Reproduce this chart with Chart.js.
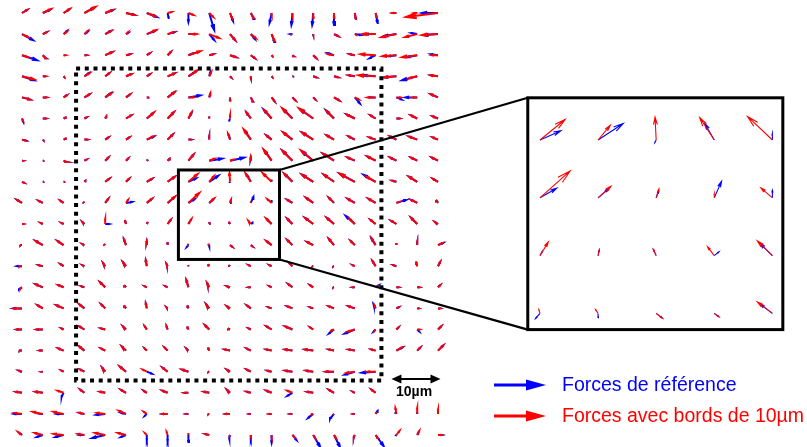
<!DOCTYPE html>
<html>
<head>
<meta charset="utf-8">
<script src="https://cdn.jsdelivr.net/npm/chart.js@4.4.1/dist/chart.umd.min.js"></script>
<style>
  html, body { margin: 0; padding: 0; background: #fff; }
  #wrap { position: relative; width: 807px; height: 447px; overflow: hidden; }
  #plot { position: absolute; left: 0; top: 0; }
  .key { position: absolute; font-family: "Liberation Sans", Arial, sans-serif; font-size: 19.5px; line-height: 24px; white-space: nowrap; }
  .mark { position: absolute; }
  #scaleLabel { position: absolute; left: 396px; top: 382px; font-family: "Liberation Sans", Arial, sans-serif; font-weight: bold; font-size: 14px; line-height: 18px; }
</style>
</head>
<body>
<div id="wrap">
  <canvas id="plot" width="807" height="447"></canvas>
  <svg class="mark" style="left:494px;top:378px" width="54" height="14">
    <line x1="0" y1="7" x2="36" y2="7" stroke="#0000ff" stroke-width="3"/>
    <polygon points="32,1.5 52,7 32,12.5" fill="#0000ff"/>
  </svg>
  <div class="key" style="left:562px;top:372px;color:#0000ff">Forces de référence</div>
  <svg class="mark" style="left:494px;top:409px" width="54" height="14">
    <line x1="0" y1="7" x2="36" y2="7" stroke="#ff0000" stroke-width="3"/>
    <polygon points="32,1.5 52,7 32,12.5" fill="#ff0000"/>
  </svg>
  <div class="key" style="left:562px;top:403px;color:#ff0000">Forces avec bords de 10µm</div>
  <div id="scaleLabel">10µm</div>
</div>
<script>
// ===== Grid =====
const gridCols = [0,1,2,3,4,5,6,7,8,9,10,11,12,13,14,15,16,17,18,19,20];
const gridRows = [0,1,2,3,4,5,6,7,8,9,10,11,12,13,14,15,16,17,18,19,20];
const zoomCols = [8,9,10,11,12];
const zoomRows = [8,9,10,11];

// ===== Forces de référence (blue), x and y components, y pointing down =====
const refU = [
  [5,7,5,9,8,9,10,1,0,5,3,3,-2,-1,-1,0,1,2,-3,-2,-16],
  [11,4,3,3,5,2,8,7,6,5,5,4,3,-2,0,4,6,-10,-12,-6,-14],
  [15,3,1,2,7,4,3,3,5,4,6,4,1,1,3,-6,-5,-6,-8,-10,-7],
  [12,2,1,4,4,5,3,7,6,1,1,0,1,1,3,4,-6,-12,-12,-15,-7],
  [8,3,3,5,5,4,2,6,12,1,0,2,3,3,2,5,5,-6,5,-12,-7],
  [1,3,2,2,1,5,6,6,3,0,-1,-4,-8,-9,-13,-8,-8,-5,3,-6,-5],
  [4,1,2,3,3,3,7,5,3,0,-1,-6,-5,-9,-11,-7,-6,-6,-6,-8,-5],
  [1,1,2,2,3,2,1,2,5,13,14,0,-7,-10,-11,-11,-7,-8,-6,-6,-6],
  [2,1,1,1,4,3,5,7,7.5,9,-0.5,-3.4,0,-8,-11,-10,-15,-12,-4,-8,-5],
  [-5,-4,-3,-1,3,6,5,7,6,4,0.8,2.6,0,-5,-7,-5,-7,-7,10,-6,-2],
  [1,-2,-2,-2,4,-1,1,3,0.8,0.4,-1,1.7,-4.5,-5,-8,-7,-9,-5,-5,-6,-3],
  [-2,-7,-6,-2,-1,-2,0,0,-1.6,0,2.2,1.6,-4.5,-5,-6,-5,-4,-4,0,0,5],
  [-5,-4,-3,-2,-2,-3,-1,-1,0,-1,-1,-2,-2,-3,-1,-1,-2,-3,-3,-1,2],
  [-3,-7,-5,-3,-5,-2,-2,-2,-2,-2,-3,-2,-2,-4,-3,-1,-2,3,2,2,2],
  [-9,-5,-7,-5,-4,-2,-1,-1,-1,-3,-3,-4,-3,-5,-3,-5,-6,-2,2,1,2],
  [-5,-6,-2,-5,-4,-3,-2,-1,-1,-4,-2,-2,-5,-7,-3,-5,-10,-2,2,2,3],
  [-3,-3,-5,-5,-4,-4,-2,-3,-2,-1,-5,-4,-5,-7,-8,-5,-6,-4,6,3,5],
  [-3,-1,-2,-4,-3,-6,5,-5,-6,-1,-3,-4,-4,-7,-7,-8,-10,-14,null,null,null],
  [-6,-7,-2,-4,-5,-5,-3,-5,-4,-5,-3,-4,-5,-5,-6,-5,-2,-4,null,null,null],
  [-8,-3,-7,-5,-9,-5,-2,-5,-2,-1,-4,-1,-2,-2,-5,-4,-1,2,-1,0,0],
  [-2,-6,-8,-5,-13,-5,0,0,0,-4,-1,0,0,4,7,6,-1,8,-1,1,4]
];
const refV = [
  [-3,-3,-3,-5,-3,2,4,5,9,17,8,6,10,12,12,12,6,10,0,0,0],
  [6,-2,-3,-2,-3,-1,-3,-2,0,6,6,5,8,0,1,2,1,0,2,-1,1],
  [5,3,0,0,-3,-1,-2,-3,-2,-1,2,3,1,1,3,-2,-1,3,1,2,-1],
  [4,0,1,-3,-3,-2,-2,-3,-4,-4,1,2,1,0,1,1,-1,-1,1,4,-1],
  [2,0,-2,-3,-4,-3,0,-5,-2,-3,3,4,4,3,2,3,6,0,2,0,-3],
  [3,0,-1,-1,-2,-3,-5,-6,-5,-2,3,-5,-9,-9,-9,-8,-4,-3,0,-3,-2],
  [1,1,-1,0,-2,-2,-3,-5,0,-3,-5,-9,-4,-7,-7,-4,-3,-2,-3,-3,-2],
  [0,0,1,-1,-3,-2,-1,-2,-6,-2,-3,-3,-10,-10,-9,-7,-3,-4,-3,-3,-3],
  [1,0,0,-1,-3,-3,-3,-5,-3.4,-6,1,-6,-2.4,-8,-7,-7,-8,-7,-1,-5,-3],
  [-3,-2,-2,-1,-4,-1,-4,-6,-3.5,-3.5,-2.5,-6,-2.8,-3,-5,-5,-4,-4,-3,-3,-3],
  [0,-1,-1,-2,0,-4,-2,-4,-1.5,-2,-2.2,-1.4,-4.5,-5,-6,-6,-8,-4,-3,-6,-2],
  [0,-4,-4,-1,-1,-5,-4,-3,1.9,1.6,1.7,1.2,-3.5,-5,-3,-6,-4,-6,-2,-3,-2],
  [0,-1,-2,-1,-3,-4,-6,-2,-1,-2,-1,-1,-1,-3,0,0,-1,-5,-1,-4,-4],
  [2,-3,-2,-1,-5,-2,-1,-1,-7,-4,-1,0,-1,-3,-2,0,0,-2,0,0,-2],
  [0,-3,-3,-4,-4,-3,-5,-1,-3,-4,-2,-3,-1,-2,-1,-2,-2,-4,-1,0,0],
  [0,0,-1,-3,-1,-3,-3,-3,-3,-4,-1,-1,-3,-3,-2,4,4,2,-2,2,-3],
  [0,0,-2,-4,-2,-4,-2,-3,-2,-3,-1,-2,-1,-1,-1,-1,-1,-1,-3,-3,-5],
  [-1,0,-1,-2,-4,-5,2,-4,-2,0,-2,-2,-1,-1,-1,0,3,1,null,null,null],
  [-1,-1,4,-3,-1,-3,-2,-2,0,-1,-3,-1,-2,3,-1,-3,-1,-3,null,null,null],
  [0,0,0,-1,1,-1,2,0,0,0,0,0,0,0,4,5,0,-3,-2,-2,-2],
  [-2,2,2,0,3,2,5,6,7,-1,4,4,8,5,12,12,2,11,1,-2,0]
];

// ===== Forces avec bords de 10µm (red) =====
const edgeU = [
  [5,8,6,11,7,8,8,4,5,4,2,3,0,0,0,0,1,1,-4,-3,-32],
  [6,4,3,3,6,2,9,6,8,10,5,5,3,-1,0,4,2,-13,-15,-12,-16],
  [6,3,2,2,7,4,3,3,12,4,6,4,1,1,3,-6,-5,-15,-14,-15,-6],
  [12,3,1,5,4,5,3,7,9,2,1,0,1,1,3,4,-6,-17,-12,-8,-7],
  [8,4,3,5,6,4,2,7,5,1,0,2,3,3,2,5,4,-8,4,-4,-7],
  [1,3,2,2,1,5,7,6,3,0,0,-4,-7,-10,-14,-7,-8,-5,3,-6,-5],
  [3,1,2,3,3,3,6,5,2,0,-2,-7,-5,-9,-11,-7,-6,-6,-6,-8,-5],
  [1,1,2,2,3,2,1,2,5,5,3,0,-8,-10,-12,-11,-7,-8,-6,-6,-6],
  [2,1,1,1,4,3,5,7,9,4.4,-0.4,-5.2,-8.9,-8,-11,-10,-15,-9,-4,-8,-5],
  [-5,-4,-3,-1,3,2,5,7,10.8,4.6,1,0,-4.1,-5,-7,-5,-7,-7,3,-6,-2],
  [1,-2,-2,-2,0,-1,1,3,3,0.4,-1,-2.4,-5.4,-5,-8,-7,-5,-5,-5,-6,-3],
  [-2,-7,-6,-2,-1,-2,0,0,-0.4,-0.9,2.2,1.6,-5.4,-5,-6,-5,-4,-4,0,0,4],
  [-3,-4,-3,-2,-2,-3,-1,-1,0,-1,-1,-2,-2,-3,-1,-1,-2,-3,-3,-1,2],
  [-2,-7,-5,-3,-5,-2,-2,-2,-2,-2,-3,-2,-2,-4,-3,-1,-2,2,2,2,2],
  [-8,-5,-7,-5,-4,-2,-1,-1,-1,-3,-3,-4,-3,-5,-3,-5,-6,-1,2,1,2],
  [-5,-6,-2,-5,-4,-3,-2,-1,-1,-4,-2,-2,-5,-7,-3,-3,-7,-1,2,2,3],
  [-3,-3,-5,-5,-4,-4,-2,-3,-2,-1,-5,-4,-5,-7,-8,-5,-6,-4,5,3,5],
  [-3,-1,-2,-4,-3,-6,-4,-5,-6,-1,-3,-4,-4,-7,-7,-8,-8,-8,null,null,null],
  [-6,-7,-6,-4,-5,-5,-3,-5,-4,-5,-3,-4,-5,-5,-6,-5,-2,-4,null,null,null],
  [-7,-10,-10,-5,-8,-7,-3,-5,-2,-1,-4,-1,-2,-2,-2,-1,-1,1,-1,0,0],
  [-4,-8,-10,-6,-10,-8,-2,-1,0,-4,-1,0,0,2,2,2,-1,2,3,2,3]
];
const edgeV = [
  [-3,-4,-4,-6,-3,2,3,-1,2,4,5,5,3,4,5,5,6,4,0,0,4],
  [3,-2,-2,-3,-3,-2,-4,-2,0,4,6,4,7,0,1,2,1,0,3,3,1],
  [2,3,0,0,-3,-1,-2,-3,-4,-1,2,3,1,1,3,-1,-1,-1,1,2,0],
  [3,0,1,-3,-3,-2,-2,-3,-6,-4,1,2,1,0,1,1,-1,-1,1,2,-1],
  [2,0,-2,-3,-4,-3,0,-5,0,-4,3,4,4,3,2,3,2,0,0,0,-3],
  [2,0,-1,-1,-2,-3,-6,-6,-6,-2,-3,-6,-8,-10,-10,-7,-4,-3,0,-3,-2],
  [1,1,-1,0,-2,-2,-3,-5,0,-3,-6,-10,-4,-7,-7,-4,-3,-2,-3,-3,-2],
  [0,0,1,-1,-3,-2,-1,-2,-6,-2,-1,-4,-11,-10,-10,-7,-3,-4,-3,-3,-3],
  [1,0,0,-1,-3,-3,-3,-5,-7.5,-5.4,-8.4,-8.2,-8.6,-8,-7,-7,-8,-5,-1,-5,-3],
  [-3,-2,-2,-1,-4,-3,-4,-6,-9.8,-4.2,-3.2,-1.5,-3.6,-3,-5,-5,-4,-4,-1,-3,-3],
  [0,-1,-1,-2,-5,-4,-2,-4,-5,-2,-2.2,-3.2,-5.4,-5,-6,-6,-5,-4,-3,-6,-2],
  [0,-4,-4,-1,-1,-6,-4,-3,-1.4,-1.4,1.7,1.2,-4.2,-5,-3,-6,-4,-7,-2,-3,-2],
  [0,-1,-2,-1,-3,-4,-6,-2,-1,-2,-1,-1,-1,-3,0,0,-1,-5,-1,-5,-4],
  [1,-3,-2,-1,-5,-2,-1,-1,-7,-4,-1,0,-1,-3,-2,0,0,-1,0,0,-2],
  [0,-3,-3,-4,-4,-3,-5,-1,-3,-4,-2,-3,-1,-2,-1,-2,-2,-3,-1,0,0],
  [0,0,-1,-3,-1,-3,-3,-3,-3,-4,-1,-1,-3,-3,-2,1,2,1,-2,0,-3],
  [0,0,-2,-4,-2,-4,-2,-3,-2,-3,-1,-2,-1,-1,-1,-1,-1,-1,-3,-3,-5],
  [-1,0,-1,-2,-4,-5,-2,-4,-2,0,-2,-2,-1,-1,-1,0,1,0,null,null,null],
  [-1,-1,-2,-3,-1,-3,-2,-2,0,-1,-3,-1,-2,-2,-1,-3,-1,-3,null,null,null],
  [-1,-2,-2,-1,-1,-3,-2,0,0,0,0,0,0,0,0,1,0,-2,-6,-6,-4],
  [-3,-2,-1,-1,-2,-2,-2,-3,-2,-1,2,2,3,2,3,3,2,3,-4,-4,0]
];

// ===== Quiver helpers =====
const FORCE_PER_COL = 20.8;   // force units drawn as one grid step across
const FORCE_PER_ROW = 21.1;   // force units drawn as one grid step down
const HEAD = 0.33, SPREAD = 0.25;

// one polyline per arrow: shaft, gap, head (two barbs), gap
function quiver(U, V, colIdx, rowIdx) {
  const pts = [];
  rowIdx.forEach(r => {
    colIdx.forEach(c => {
      const u = U[r][c], v = V[r][c];
      if (u == null || (u === 0 && v === 0)) return;
      const du = u / FORCE_PER_COL, dv = v / FORCE_PER_ROW;
      const tx = c + du, ty = r + dv;
      pts.push(
        {x: c, y: r}, {x: tx, y: ty}, {x: tx, y: null},
        {x: tx - HEAD * (du + SPREAD * dv), y: ty - HEAD * (dv - SPREAD * du)},
        {x: tx, y: ty},
        {x: tx - HEAD * (du - SPREAD * dv), y: ty - HEAD * (dv + SPREAD * du)},
        {x: tx, y: null}
      );
    });
  });
  return pts;
}

function arrowSet(label, U, V, colIdx, rowIdx, color, width, xId, yId) {
  return {
    label: label,
    data: quiver(U, V, colIdx, rowIdx),
    showLine: true,
    spanGaps: false,
    borderColor: color,
    borderWidth: width,
    borderJoinStyle: 'miter',
    pointRadius: 0,
    xAxisID: xId,
    yAxisID: yId
  };
}

// ===== Frames, zoom lines and scale bar =====
const frames = {
  id: 'frames',
  afterDatasetsDraw(chart) {
    const {ctx} = chart;
    const {x, y, x2, y2} = chart.scales;
    ctx.save();
    ctx.strokeStyle = '#000';
    ctx.fillStyle = '#000';

    // dotted region (10µm border)
    ctx.lineWidth = 4;
    ctx.setLineDash([4, 4.7]);
    ctx.beginPath();
    ctx.rect(x.getPixelForValue(2.6), y.getPixelForValue(2.63),
             x.getPixelForValue(17.28) - x.getPixelForValue(2.6),
             y.getPixelForValue(17.42) - y.getPixelForValue(2.63));
    ctx.stroke();
    ctx.setLineDash([]);

    // zoomed box and inset frame
    const bx0 = x.getPixelForValue(7.52), bx1 = x.getPixelForValue(12.38);
    const by0 = y.getPixelForValue(7.44), by1 = y.getPixelForValue(11.68);
    const ix0 = x2.getPixelForValue(7.79), ix1 = x2.getPixelForValue(12.18);
    const iy0 = y2.getPixelForValue(7.27), iy1 = y2.getPixelForValue(11.28);
    ctx.lineWidth = 2.2;
    ctx.beginPath();
    ctx.moveTo(bx1, by0); ctx.lineTo(ix0, iy0);
    ctx.moveTo(bx1, by1); ctx.lineTo(ix0, iy1);
    ctx.stroke();
    ctx.lineWidth = 3;
    ctx.strokeRect(bx0, by0, bx1 - bx0, by1 - by0);
    ctx.strokeRect(ix0, iy0, ix1 - ix0, iy1 - iy0);

    // 10µm scale bar
    const sx0 = x.getPixelForValue(17.76), sx1 = x.getPixelForValue(20.12);
    const sy = y.getPixelForValue(17.35);
    ctx.lineWidth = 2;
    ctx.beginPath();
    ctx.moveTo(sx0 + 6, sy); ctx.lineTo(sx1 - 6, sy);
    ctx.stroke();
    ctx.beginPath();
    ctx.moveTo(sx0, sy); ctx.lineTo(sx0 + 10, sy - 4.5); ctx.lineTo(sx0 + 10, sy + 4.5); ctx.closePath();
    ctx.moveTo(sx1, sy); ctx.lineTo(sx1 - 10, sy - 4.5); ctx.lineTo(sx1 - 10, sy + 4.5); ctx.closePath();
    ctx.fill();
    ctx.restore();
  }
};

// ===== Chart =====
// datasets listed first are painted last, so red sits on top of blue
new Chart(document.getElementById('plot'), {
  type: 'scatter',
  data: {
    datasets: [
      arrowSet('Forces avec bords de 10µm', edgeU, edgeV, gridCols, gridRows, '#ff0000', 2, 'x', 'y'),
      arrowSet('Forces de référence', refU, refV, gridCols, gridRows, '#0000ff', 2, 'x', 'y'),
      arrowSet('Forces avec bords de 10µm (zoom)', edgeU, edgeV, zoomCols, zoomRows, '#ff0000', 1.1, 'x2', 'y2'),
      arrowSet('Forces de référence (zoom)', refU, refV, zoomCols, zoomRows, '#0000ff', 1.1, 'x2', 'y2')
    ]
  },
  options: {
    responsive: false,
    animation: false,
    events: [],
    layout: { padding: 0 },
    plugins: { legend: { display: false }, tooltip: { enabled: false } },
    scales: {
      x:  { type: 'linear', min: -1.0577, max: 37.74, display: false },
      y:  { type: 'linear', min: -0.6161, max: 20.569, reverse: true, display: false },
      x2: { type: 'linear', min: -1.294, max: 12.596, display: false },
      y2: { type: 'linear', min: 5.578, max: 13.311, reverse: true, display: false }
    }
  },
  plugins: [frames]
});
</script>
</body>
</html>
